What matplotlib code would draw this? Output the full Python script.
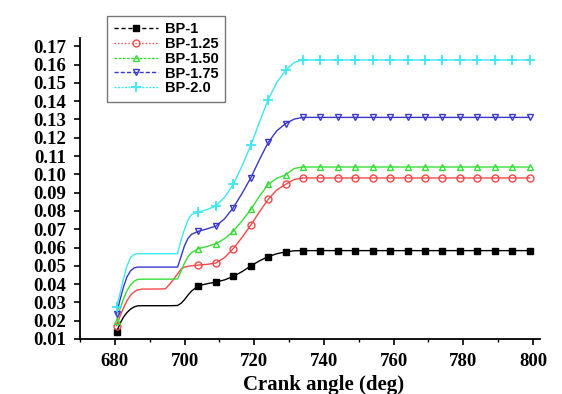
import matplotlib
matplotlib.use("Agg")
import matplotlib.pyplot as plt
from matplotlib.lines import Line2D
from matplotlib.ticker import MultipleLocator, FormatStrFormatter

angle = [680.5, 681.5, 682.5, 683.5, 684.5, 685.5, 686.5, 688, 692, 694.5,
         696, 698, 699, 700, 701, 702, 704, 706.5, 709, 711.5, 714, 716.5,
         719, 721.5, 724, 726.5, 729, 731.5, 734, 739, 744, 749, 754, 759,
         764, 769, 774, 779, 784, 789, 794, 799]

# angles carrying a symbol
mark_at = [680.5, 704, 709, 714, 719, 724, 729, 734, 739, 744, 749, 754,
           759, 764, 769, 774, 779, 784, 789, 794, 799]

bp_1 = [0.0137, 0.0185, 0.0220, 0.0245, 0.0263, 0.0275, 0.0281, 0.0282,
        0.0282, 0.0282, 0.0282, 0.0283, 0.0295, 0.0315, 0.0340, 0.0362,
        0.0391, 0.0402, 0.0411, 0.0423, 0.0442, 0.0468, 0.0499, 0.0527,
        0.0550, 0.0566, 0.0576, 0.0582] + [0.0583] * 14

bp_125 = [0.0173, 0.0225, 0.0270, 0.0310, 0.0338, 0.0357, 0.0368, 0.0373,
          0.0373, 0.0374, 0.0405, 0.0455, 0.0482, 0.0493, 0.0497, 0.0500,
          0.0504, 0.0508, 0.0515, 0.0545, 0.0594, 0.0655, 0.0722, 0.0795,
          0.0863, 0.0915, 0.0945, 0.0972] + [0.0980] * 14

bp_150 = [0.0200, 0.0265, 0.0320, 0.0365, 0.0395, 0.0415, 0.0425, 0.0427,
          0.0427, 0.0427, 0.0427, 0.0428, 0.0470, 0.0515, 0.0550, 0.0572,
          0.0594, 0.0606, 0.0621, 0.0648, 0.0689, 0.0745, 0.0808, 0.0880,
          0.0945, 0.0978, 0.0997, 0.1032] + [0.1040] * 14

bp_175 = [0.0238, 0.0315, 0.0385, 0.0440, 0.0472, 0.0488, 0.0493, 0.0493,
          0.0493, 0.0493, 0.0493, 0.0493, 0.0550, 0.0610, 0.0650, 0.0672,
          0.0689, 0.0702, 0.0717, 0.0757, 0.0818, 0.0895, 0.0980, 0.1080,
          0.1174, 0.1238, 0.1277, 0.1302] + [0.1311] * 14

bp_20 = [0.0275, 0.0350, 0.0430, 0.0500, 0.0545, 0.0562, 0.0566, 0.0566,
         0.0566, 0.0566, 0.0566, 0.0566, 0.0640, 0.0700, 0.0750, 0.0780,
         0.0793, 0.0808, 0.0826, 0.0875, 0.0945, 0.1045, 0.1158, 0.1285,
         0.1408, 0.1502, 0.1568, 0.1612] + [0.1625] * 14

labels = ["BP-1", "BP-1.25", "BP-1.50", "BP-1.75", "BP-2.0"]
series = [bp_1, bp_125, bp_150, bp_175, bp_20]

colors = ["black", "#f54848", "#38de38", "#3838cc", "#3ee6f2"]
markers = ["s", "o", "^", "v", "+"]
legend_styles = [(0, (3, 2)), (0, (1, 1.5)), (0, (2, 1)), (0, (3, 1.5)), (0, (1.5, 1))]

plt.rcParams["font.family"] = ["Liberation Serif"]

fig = plt.figure(figsize=(5.62, 3.94), dpi=100)
ax = fig.add_axes([0.1423, 0.1396, 0.8185, 0.764])

idx = [angle.index(a) for a in mark_at]
handles = []
for vals, lab, c, m, ls in zip(series, labels, colors, markers, legend_styles):
    filled = m == "s"
    kw = dict(marker=m, markersize=6.5 if m == "+" else 5,
              markerfacecolor=c if filled else "none",
              markeredgecolor=c, markeredgewidth=1.3 if m == "+" else 1.0)
    ax.plot(angle, vals, color=c, lw=1.0, markevery=idx, **kw)
    handles.append(Line2D([], [], color=c, lw=1.0, linestyle=ls, **kw))

ax.set_xlim(670, 802)
ax.set_ylim(0.01, 0.1745)
ax.xaxis.set_minor_locator(MultipleLocator(10))
ax.xaxis.set_major_formatter(FormatStrFormatter("%d"))
ax.set_xticks([680, 700, 720, 740, 760, 780, 800])
ax.set_yticks([0.01 * k for k in range(1, 18)])
ax.yaxis.set_major_formatter(FormatStrFormatter("%.2f"))

for s in ["top", "right"]:
    ax.spines[s].set_visible(False)
for s in ["left", "bottom"]:
    ax.spines[s].set_linewidth(1.3)

ax.tick_params(axis="both", which="major", direction="out", length=4,
               width=1.2, labelsize=13.5, pad=6)
ax.tick_params(axis="x", which="minor", direction="out", length=2.5, width=1.0)
for t in ax.get_xticklabels() + ax.get_yticklabels():
    t.set_fontweight("bold")

fig.text(324 / 562, 0.01, "Crank angle (deg)", ha="center", va="baseline",
         fontsize=15, fontweight="bold")

leg = fig.legend(handles=handles, labels=labels, loc="upper left",
                 bbox_to_anchor=(0.191, 0.96), frameon=True, fancybox=False,
                 prop={"family": "Liberation Sans", "weight": "bold", "size": 10.5},
                 handlelength=3.0, handletextpad=0.5, labelspacing=0.05,
                 borderpad=0.45, borderaxespad=0)
leg.get_frame().set_edgecolor("#555555")
leg.get_frame().set_linewidth(1.0)

fig.savefig("out.png", dpi=100)
